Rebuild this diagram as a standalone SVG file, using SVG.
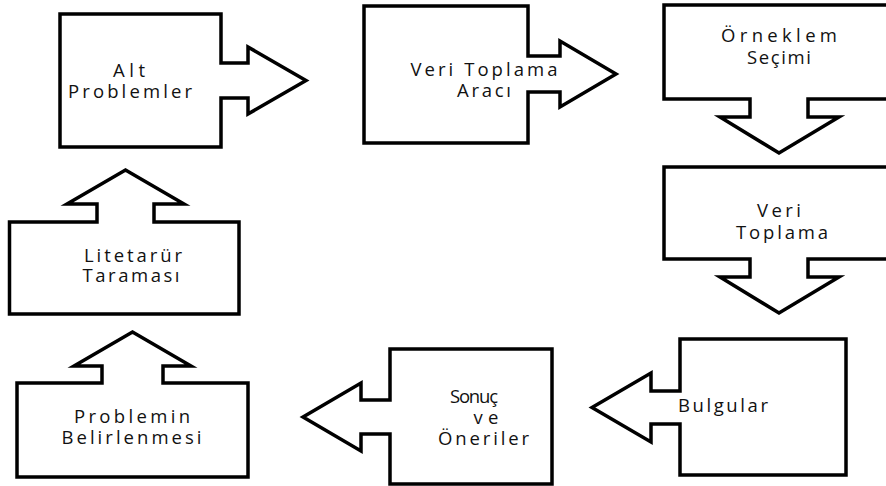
<svg xmlns="http://www.w3.org/2000/svg" width="886" height="486" viewBox="0 0 886 486">
<style>
.s{fill:#fff;stroke:#000;stroke-width:3.5;stroke-linejoin:miter;stroke-miterlimit:10}
.t{font-family:"Open Sans","Noto Sans","DejaVu Sans",sans-serif;font-size:18.5px;fill:#111;text-anchor:middle}
</style>
<rect width="886" height="486" fill="#fff"/>
<g id="alt-problemler">
<path class="s" d="M60,14 H221 V63 H248 V47 L306,80.5 L248,114 V98 H221 V147 H60 Z"/>
<text class="t" x="129" y="77" textLength="32" lengthAdjust="spacing">Alt</text>
<text class="t" x="130" y="98" textLength="124" lengthAdjust="spacing">Problemler</text>
</g>
<g id="veri-toplama-araci">
<path class="s" d="M364,6 H528 V56 H560 V41 L616,74 L560,107 V92 H528 V143 H364 Z"/>
<text class="t" x="484" y="76" textLength="147" lengthAdjust="spacing">Veri Toplama</text>
<text class="t" x="484" y="97" textLength="54" lengthAdjust="spacing">Aracı</text>
</g>
<g id="orneklem-secimi">
<path class="s" d="M664,5 H894 V99 H808 V117 H839 L779,153 L720,117 H750 V99 H664 Z"/>
<text class="t" x="779" y="42" textLength="116" lengthAdjust="spacing">Örneklem</text>
<text class="t" x="779" y="64" textLength="64" lengthAdjust="spacing">Seçimi</text>
</g>
<g id="veri-toplama">
<path class="s" d="M664,167 H894 V259 H808 V277 H839 L779,313 L720,277 H750 V259 H664 Z"/>
<text class="t" x="779" y="217" textLength="44" lengthAdjust="spacing">Veri</text>
<text class="t" x="782" y="239" textLength="92" lengthAdjust="spacing">Toplama</text>
</g>
<g id="bulgular">
<path class="s" d="M680,339 H846 V475 H680 V424 H651 V442 L592,407.5 L651,373 V391 H680 Z"/>
<text class="t" x="723" y="412" textLength="90" lengthAdjust="spacing">Bulgular</text>
</g>
<g id="sonuc-ve-oneriler">
<path class="s" d="M390,349 H552 V484 H390 V434 H361 V451 L303,417 L361,383 V400 H390 Z"/>
<text class="t" x="474" y="403" textLength="48" lengthAdjust="spacing">Sonuç</text>
<text class="t" x="486" y="424" textLength="25" lengthAdjust="spacing">ve</text>
<text class="t" x="483.5" y="445" textLength="91" lengthAdjust="spacing">Öneriler</text>
</g>
<g id="problemin-belirlenmesi">
<path class="s" d="M17,383 H102 V366 H74 L132.5,332 L191,366 H163 V383 H248 V477 H17 Z"/>
<text class="t" x="132" y="423" textLength="116" lengthAdjust="spacing">Problemin</text>
<text class="t" x="131.5" y="444" textLength="140" lengthAdjust="spacing">Belirlenmesi</text>
</g>
<g id="litetarur-taramasi">
<path class="s" d="M9.5,222 H97 V204 H67 L125.5,170 L184,204 H154 V222 H239 V314 H9.5 Z"/>
<text class="t" x="133" y="262" textLength="98" lengthAdjust="spacing">Litetarür</text>
<text class="t" x="131" y="282" textLength="97" lengthAdjust="spacing">Taraması</text>
</g>
<g id="connectors"></g>
</svg>
